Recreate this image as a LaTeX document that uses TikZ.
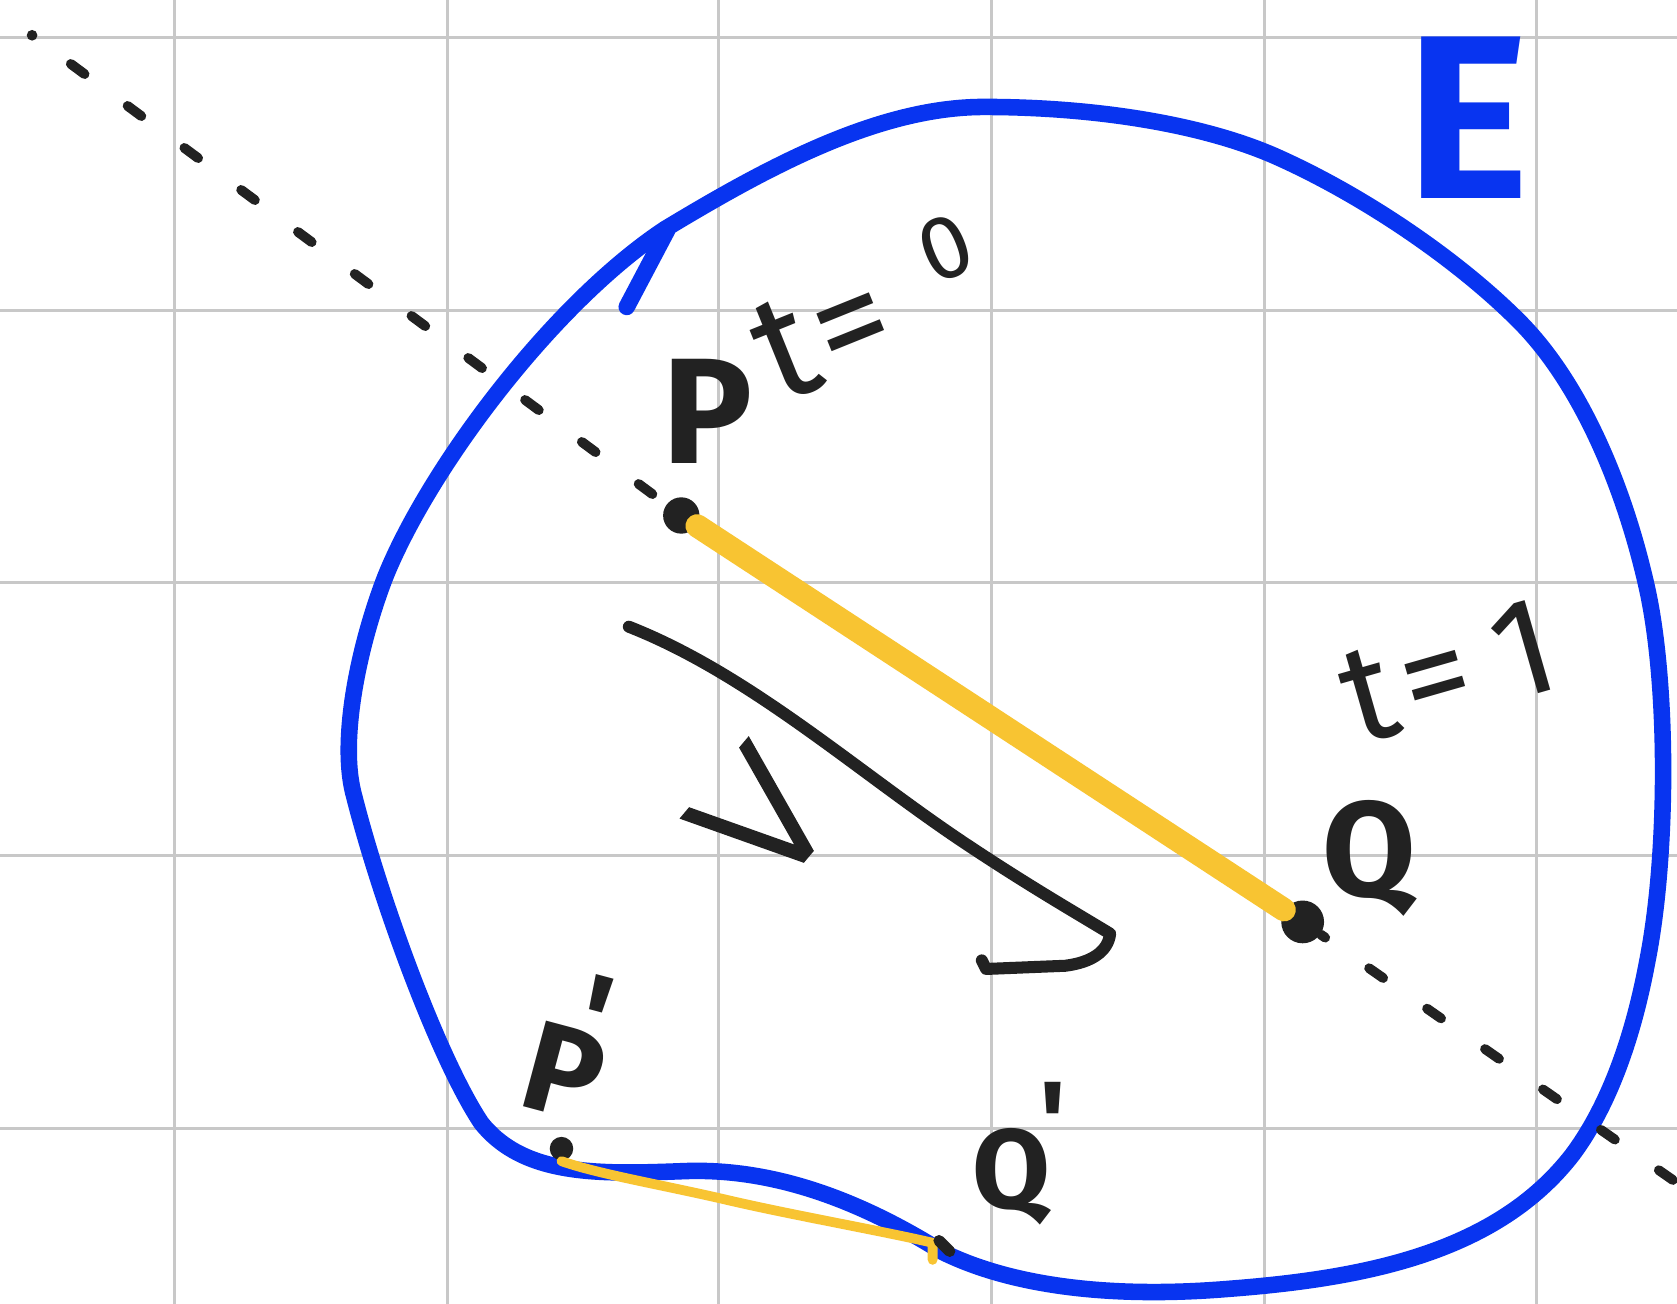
\documentclass[tikz,border=0pt]{standalone}
\usepackage{fontspec}
\setmainfont{Fira Sans}
\newfontfamily\thinfont[FakeBold=2]{DejaVu Sans ExtraLight}
\begin{document}
\begin{tikzpicture}[x=0.01cm,y=-0.01cm,
  gridline/.style={draw=gridgray,line width=0.8pt},
  boundary/.style={draw=eblue,line width=4.4pt,line cap=round,line join=round},
  ink/.style={draw=inkblack,line width=2.4pt,line cap=round,line join=round},
  dotted line/.style={draw=inkblack,line width=2.6pt,line cap=round,dash pattern=on 0.16cm off 0.5cm},
  seg/.style={draw=segyellow,line width=6.2pt,line cap=round},
  thinseg/.style={draw=segyellow,line width=2.6pt,line cap=round,line join=round},
  hand/.style={text=inkblack,inner sep=0pt},
  dot/.style={circle,fill=inkblack,inner sep=0pt}]
\definecolor{gridgray}{RGB}{200,200,200}
\definecolor{eblue}{RGB}{8,52,240}
\definecolor{inkblack}{RGB}{34,34,34}
\definecolor{segyellow}{RGB}{248,196,50}
\useasboundingbox[fill=white] (0,0) rectangle (1568,1219);
% grid
\foreach \gx in {163,418,672,927,1182,1437} \draw[gridline] (\gx,0) -- (\gx,1219);
\foreach \gy in {35,290,545,800,1055} \draw[gridline] (0,\gy) -- (1568,\gy);
% boundary E
\draw[boundary] (622,214)
  .. controls (715,158) and (820,100) .. (920,100)
  .. controls (1020,100) and (1120,115) .. (1190,145)
  .. controls (1270,180) and (1360,240) .. (1420,300)
  .. controls (1480,360) and (1520,460) .. (1540,550)
  .. controls (1560,640) and (1560,800) .. (1540,900)
  .. controls (1525,980) and (1500,1040) .. (1470,1080)
  .. controls (1400,1170) and (1280,1195) .. (1150,1205)
  .. controls (1030,1215) and (940,1200) .. (880,1170)
  .. controls (800,1120) and (720,1092) .. (640,1095)
  .. controls (560,1098) and (490,1100) .. (450,1050)
  .. controls (410,990) and (355,840) .. (330,740)
  .. controls (318,690) and (335,605) .. (360,540)
  .. controls (400,440) and (515,285) .. cycle;
\draw[boundary] (586,287) -- (624,215);
% key points
\coordinate (S) at (30,33);
\node[dot,minimum size=34*0.01cm] (P) at (637,482) {};
\node[dot,minimum size=40*0.01cm] (Q) at (1218,862) {};
\coordinate (Qend) at (1568,1106);
\node[dot,minimum size=22*0.01cm] (Pp) at (525,1074) {};
\coordinate (Qp) at (880,1167);
% dashed line through P and Q
\fill[inkblack] (S) circle (5);
\draw[dotted line,dash phase=-0.45cm] (S) -- (P);
\draw[dotted line,dash phase=-0.55cm] (Q) -- (Qend);
% yellow segments
\draw[seg] (P) -- (Q);
\draw[thinseg] (Pp.south) .. controls (560,1098) and (620,1108) .. (680,1122)
  .. controls (740,1136) and (820,1150) .. (872,1162) -- (872,1178);
\draw[ink,line width=3pt] (878,1160) -- (888,1170);
% arrow v
\coordinate (A0) at (588,586);
\coordinate (A1) at (1038,873);
\draw[ink,line width=3.2pt] (A0) .. controls (700,630) and (800,720) .. (900,787)
  .. controls (960,827) and (1000,850) .. (A1)
  .. controls (1036,890) and (1020,900) .. (996,903) -- (922,906) -- (918,898);
\node[hand,rotate=50,font=\thinfont\fontsize{58}{64}\selectfont] (v) at (712,764) {v};
% labels
\node[hand,font=\bfseries\fontsize{40}{46}\selectfont] (Plab) at (662,385) {P};
\node[hand,rotate=22,font=\fontsize{40}{46}\selectfont] (t0) at (812,288)
  {t\kern0.04em=\kern0.35em\raisebox{0.35em}{\fontsize{24}{28}\selectfont 0}};
\node[hand,font=\bfseries\fontsize{36}{42}\selectfont] (Qlab) at (1280,803) {Q};
\node[hand,rotate=16,font=\fontsize{37}{42}\selectfont] (t1) at (1355,628) {t\kern0.06em=\kern0.2em1};
\node[text=eblue,inner sep=0pt,font=\bfseries\fontsize{62}{70}\selectfont] (E) at (1372,110) {E};
\node[hand,rotate=-15,font=\bfseries\fontsize{34}{40}\selectfont] (Pplab) at (527,1002)
  {P\rlap{\smash{\kern-0.3em\raisebox{0.45em}{\textquotesingle}}}};
\node[hand,font=\bfseries\fontsize{30}{36}\selectfont] (Qplab) at (946,1100)
  {Q\rlap{\smash{\kern-0.1em\raisebox{0.42em}{\textquotesingle}}}};
\end{tikzpicture}
\end{document}
